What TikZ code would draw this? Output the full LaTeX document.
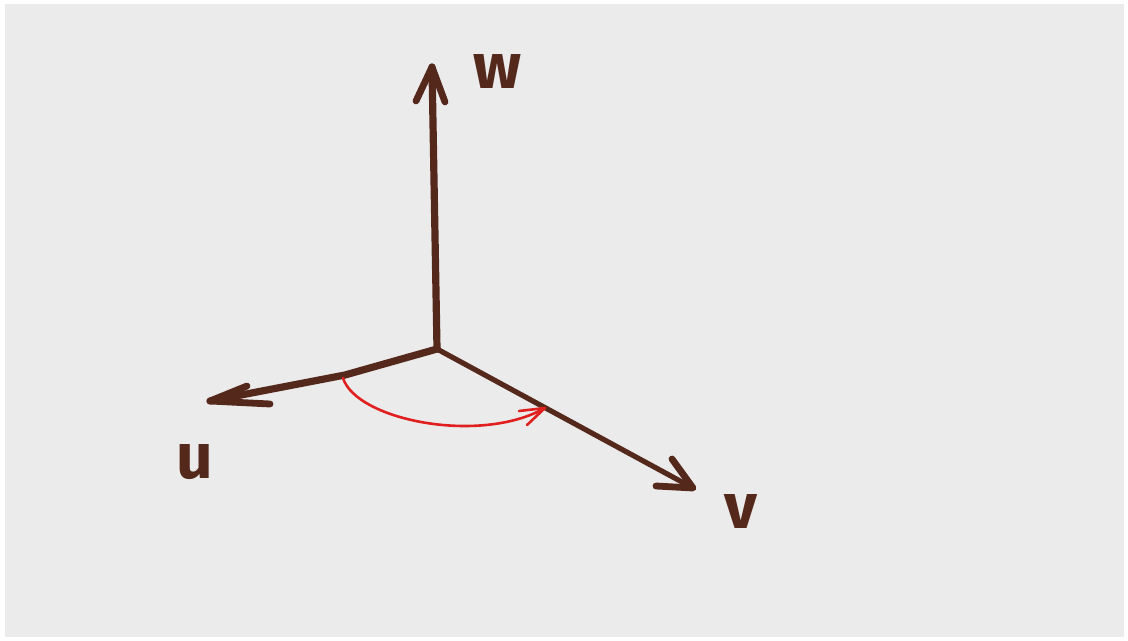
\documentclass[tikz,border=0pt]{standalone}
\usepackage{fontspec}
\newfontfamily\handfont{Fira Sans}
\definecolor{ink}{HTML}{55281C}
\definecolor{paper}{HTML}{EBEBEB}
\definecolor{redink}{HTML}{E0201E}
\begin{document}
\begin{tikzpicture}[x=0.5pt,y=-0.5pt,
  axis/.style={draw=ink,line width=3.6pt,line cap=round,line join=round},
  barb/.style={draw=ink,line width=3.4pt,line cap=round,line join=round},
  lbl/.style={text=ink,font=\handfont\bfseries\fontsize{32}{32}\selectfont,inner sep=0pt},
  rot/.style={draw=redink,line width=1.3pt,line cap=round,line join=round}]
\useasboundingbox (0,0) rectangle (1128,641);
\fill[white] (0,0) rectangle (1128,641);
\fill[paper] (5,4) rectangle (1124,637);
% named points
\coordinate (O) at (437,349);
\coordinate (wtip) at (432,67);
\coordinate (utip) at (210,401);
\coordinate (vtip) at (693,488);
\coordinate (ubend) at (345,375);
% axes
\draw[axis] (O) -- (wtip);
\draw[barb] (416,101) -- (wtip) -- (445,102);
\draw[axis] (O) -- (ubend) -- (utip);
\draw[barb] (247,386) -- (utip) -- (270,404);
\draw[draw=ink,line width=2.6pt,line cap=round] (O) -- (vtip);
\draw[barb] (672,459) -- (vtip) -- (656,486);
% labels
\node[lbl] (w) at (497,72) {w};
\node[lbl] (u) at (195,462) {u};
\node[lbl] (v) at (741,512) {v};
% red rotation arc
\coordinate (rs) at (343,378);
\coordinate (re) at (545,408);
\draw[rot] (rs) .. controls (356,420) and (480,445) .. (re);
\draw[rot] (519,411) -- (re) -- (527,425);
\end{tikzpicture}
\end{document}
